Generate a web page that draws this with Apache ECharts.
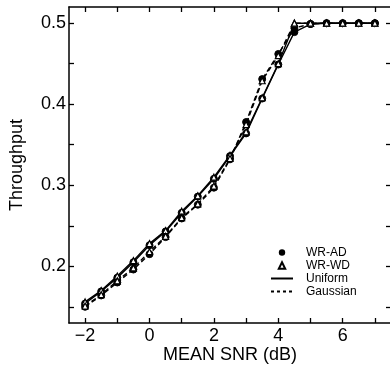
<!DOCTYPE html>
<html><head><meta charset="utf-8">
<script src="https://cdn.jsdelivr.net/npm/echarts@6/dist/echarts.min.js"></script>
<style>html,body{margin:0;padding:0;background:#fff}#c{width:390px;height:370px}</style>
</head><body><div id="c"></div>
<script>
const snr = [-2,-1.5,-1,-0.5,0,0.5,1,1.5,2,2.5,3,3.5,4,4.5,5,5.5,6,6.5,7];
const adUniform  = [0.154,0.169,0.186,0.205,0.226,0.243,0.266,0.286,0.308,0.336,0.364,0.407,0.449,0.489,0.499,0.5,0.5,0.5,0.5];
const wdUniform  = [0.156,0.170,0.188,0.207,0.228,0.244,0.268,0.287,0.310,0.337,0.366,0.408,0.450,0.500,0.5,0.5,0.5,0.5,0.5];
const adGaussian = [0.150,0.164,0.180,0.196,0.215,0.236,0.259,0.276,0.297,0.332,0.378,0.431,0.462,0.494,0.499,0.5,0.5,0.5,0.5];
const wdGaussian = [0.151,0.165,0.182,0.198,0.218,0.237,0.260,0.277,0.299,0.333,0.375,0.429,0.460,0.500,0.5,0.5,0.5,0.5,0.5];
const xTicks = [-2,-1,0,1,2,3,4,5,6,7];
const xLabels = [-2,0,2,4,6];
const yTicks = [0.15,0.2,0.25,0.3,0.35,0.4,0.45,0.5];
const yLabels = [0.2,0.3,0.4,0.5];
const legendNames = ['WR-AD','WR-WD','Uniform','Gaussian'];

const FONT = 'Liberation Sans, Arial, sans-serif';
const BLACK = '#000';
const pts = arr => snr.map((x, i) => [x, arr[i]]);
const axisLine = {show: true, onZero: false, lineStyle: {color: BLACK, width: 1.5}};
const tick = vals => ({show: true, inside: true, length: 5, customValues: vals, lineStyle: {color: BLACK, width: 1.3}});

function dataSeries(name, arr, marker, dashed) {
  const isTri = marker === 'triangle';
  return {
    name: name, type: 'line', data: pts(arr), xAxisIndex: 0, yAxisIndex: 0,
    symbol: marker, symbolSize: isTri ? 6 : 7, showSymbol: true,
    lineStyle: {color: BLACK, width: 1.4, type: dashed ? [5, 3] : 'solid'},
    itemStyle: isTri ? {color: '#fff', borderColor: BLACK, borderWidth: 1.2} : {color: BLACK, borderColor: BLACK, borderWidth: 1},
    animation: false, z: isTri ? 3 : 2
  };
}

const chart = echarts.init(document.getElementById('c'), null, {renderer: 'canvas'});
chart.setOption({
  animation: false,
  backgroundColor: '#fff',
  grid: {left: 69, top: 7, width: 322, height: 316, containLabel: false, outerBoundsMode: 'none'},
  xAxis: [
    {type: 'value', position: 'bottom', min: -2.5, max: 7.5,
     axisLine: axisLine, axisTick: tick(xTicks), splitLine: {show: false},
     axisLabel: {customValues: xLabels, color: BLACK, fontSize: 18, fontFamily: FONT, margin: 4,
                 formatter: v => String(v).replace('-', '\u2212')},
     name: 'MEAN SNR (dB)', nameLocation: 'middle', nameGap: 23, nameMoveOverlap: false,
     nameTextStyle: {color: BLACK, fontSize: 18, fontFamily: FONT}},
    {type: 'value', position: 'top', min: -2.5, max: 7.5,
     axisLine: axisLine, axisTick: tick(xTicks), axisLabel: {show: false}, splitLine: {show: false}}
  ],
  yAxis: [
    {type: 'value', position: 'left', min: 0.13, max: 0.52,
     axisLine: axisLine, axisTick: tick(yTicks), splitLine: {show: false},
     axisLabel: {customValues: yLabels, color: BLACK, fontSize: 18, fontFamily: FONT, margin: 3,
                 formatter: v => v.toFixed(1)},
     name: 'Throughput', nameLocation: 'middle', nameGap: 43, nameMoveOverlap: false,
     nameTextStyle: {color: BLACK, fontSize: 18, fontFamily: FONT}},
    {type: 'value', position: 'right', min: 0.13, max: 0.52,
     axisLine: axisLine, axisTick: tick(yTicks), axisLabel: {show: false}, splitLine: {show: false}}
  ],
  legend: {
    data: [
      {name: legendNames[0]},
      {name: legendNames[1]},
      {name: legendNames[2], itemStyle: {opacity: 0}},
      {name: legendNames[3], itemStyle: {opacity: 0}}
    ],
    orient: 'vertical', left: 265, top: 241,
    itemWidth: 22, itemHeight: 8, itemGap: 0,
    textStyle: {color: BLACK, fontSize: 12, lineHeight: 13, fontFamily: FONT, padding: [0, 0, 0, 8]},
    selectedMode: false
  },
  series: [
    dataSeries('AD Uniform', adUniform, 'circle', false),
    dataSeries('WD Uniform', wdUniform, 'triangle', false),
    dataSeries('AD Gaussian', adGaussian, 'circle', true),
    dataSeries('WD Gaussian', wdGaussian, 'triangle', true),
    {name: 'WR-AD', type: 'line', data: [], symbol: 'circle',
     itemStyle: {color: BLACK}, lineStyle: {width: 0, color: 'rgba(0,0,0,0)'}},
    {name: 'WR-WD', type: 'line', data: [], symbol: 'triangle',
     itemStyle: {color: '#fff', borderColor: BLACK, borderWidth: 1.2}, lineStyle: {width: 0, color: 'rgba(0,0,0,0)'}},
    {name: 'Uniform', type: 'line', data: [], symbol: 'none',
     itemStyle: {color: BLACK}, lineStyle: {color: BLACK, width: 1, type: 'solid'}},
    {name: 'Gaussian', type: 'line', data: [], symbol: 'none',
     itemStyle: {color: BLACK}, lineStyle: {color: BLACK, width: 1, type: [3, 3]}}
  ]
});
</script>
</body></html>
